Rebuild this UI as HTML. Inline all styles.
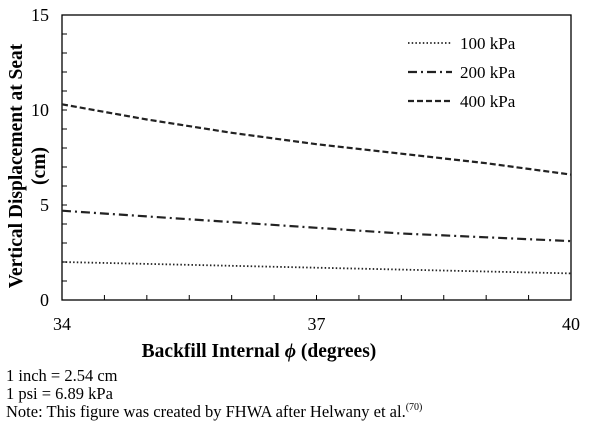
<!DOCTYPE html>
<html><head><meta charset="utf-8"><style>
body{margin:0;background:#fff;width:607px;height:423px;overflow:hidden}
text{font-family:"Liberation Serif",serif;fill:#000}
</style></head><body>
<svg id="chart" width="607" height="423">
<rect x="62" y="15" width="509" height="285" fill="none" stroke="#000" stroke-width="1.3"/>
<g id="ticks"></g>
<g id="series"></g>
<text x="22" y="166" font-size="19.5" font-weight="bold" text-anchor="middle" transform="rotate(-90 22 166)">Vertical Displacement at Seat</text>
<text x="45" y="166" font-size="19.5" font-weight="bold" text-anchor="middle" transform="rotate(-90 45 166)">(cm)</text>
<text x="259" y="357" font-size="19.5" font-weight="bold" text-anchor="middle">Backfill Internal <tspan font-style="italic">ϕ</tspan> (degrees)</text>
<g>
<line x1="408" y1="43" x2="452" y2="43" stroke="#222" stroke-width="1.8" stroke-dasharray="1.5 2.2"/>
<text x="460" y="49" font-size="17">100 kPa</text>
<line x1="408" y1="72" x2="452" y2="72" stroke="#222" stroke-width="2.2" stroke-dasharray="9 4 2 4"/>
<text x="460" y="78" font-size="17">200 kPa</text>
<line x1="408" y1="101" x2="452" y2="101" stroke="#222" stroke-width="2.2" stroke-dasharray="6 3"/>
<text x="460" y="107" font-size="17">400 kPa</text>
</g>
<text x="6" y="381" font-size="16.5">1 inch = 2.54 cm</text>
<text x="6" y="399" font-size="16.5">1 psi = 6.89 kPa</text>
<text x="6" y="417" font-size="16.5">Note: This figure was created by FHWA after Helwany et al.<tspan font-size="10" dy="-7">(70)</tspan></text>
</svg>
<script>
const categories=[34,35,36,37,38,39,40];
const s100=[2.0,1.9,1.8,1.7,1.6,1.5,1.4];
const s200=[4.7,4.4,4.1,3.8,3.5,3.3,3.1];
const s400=[10.3,9.5,8.8,8.2,7.7,7.2,6.6];
const xTickLabels=[34,37,40];
const yTickLabels=[0,5,10,15];
const NS="http://www.w3.org/2000/svg";
const X=v=>62+(v-34)/6*509, Y=v=>300-v/15*285;
const tg=document.getElementById('ticks'), sg=document.getElementById('series');
function mk(t,a,p){const e=document.createElementNS(NS,t);for(const k in a)e.setAttribute(k,a[k]);p.appendChild(e);return e;}
for(let i=1;i<15;i++){const l=mk('line',{x1:62,x2:67,y1:Y(i),y2:Y(i),stroke:'#000'},tg);

}
for(let i=1;i<12;i++){const l=mk('line',{x1:X(34+i*0.5),x2:X(34+i*0.5),y1:300,y2:295,stroke:'#000'},tg);

}
yTickLabels.forEach(v=>{const t=mk('text',{x:49,y:Y(v)+6,'font-size':18,'text-anchor':'end'},tg);t.textContent=v;

});
xTickLabels.forEach(v=>{const t=mk('text',{x:X(v),y:330,'font-size':18,'text-anchor':'middle'},tg);t.textContent=v;

});
function line(vals,dash,w,name){const d=vals.map((v,i)=>(i?'L':'M')+X(categories[i])+','+Y(v)).join('');
const p=mk('path',{d:d,fill:'none',stroke:'#222','stroke-width':w,'stroke-dasharray':dash},sg);

}
line(s100,'1.5 2.2',1.8,'line-100kpa');
line(s200,'9 4 2 4',2.2,'line-200kpa');
line(s400,'6 3',2.2,'line-400kpa');
</script>
</body></html>
